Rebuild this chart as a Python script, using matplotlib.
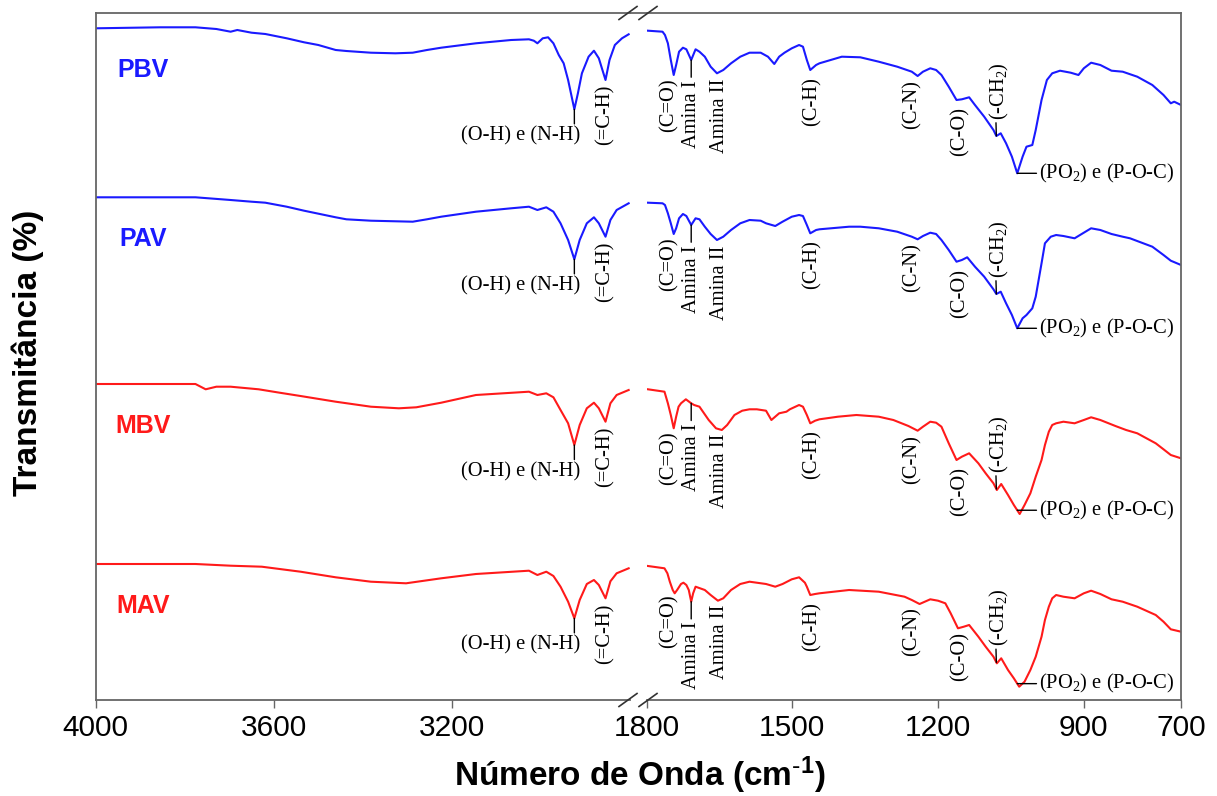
import numpy as np
import matplotlib.pyplot as plt
from matplotlib.lines import Line2D

plt.rcParams['font.family'] = ['Liberation Sans', 'DejaVu Sans']
plt.rcParams['mathtext.default'] = 'regular'

# espectros FTIR: numero de onda (cm-1) e transmitancia (unid. arb.)
# regiao 4000-2800
pbv_wn_hi = [4000, 3855, 3776, 3729, 3697, 3682, 3650, 3619, 3571, 3532, 3500, 3461, 3437,
             3382, 3327, 3288, 3256, 3224, 3146, 3067, 3027, 3016, 3008, 2996, 2984, 2972,
             2960, 2949, 2939, 2931, 2925, 2917, 2908, 2893, 2881, 2870, 2855, 2846, 2834,
             2818, 2803]
pbv_t_hi = [146.7, 147.7, 147.7, 146, 143.3, 145, 142.3, 141, 136.7, 132.7, 130, 125, 124,
            122.3, 121.7, 122.3, 125, 127.3, 131.7, 135, 135.7, 134.3, 131.7, 136.7, 137.7, 131.7,
            120, 111.7, 95, 78.3, 65.7, 81.7, 101.7, 118.3, 124.3, 116.7, 95, 115, 130,
            136.7, 140.7]

pav_wn_hi = [4000, 3776, 3697, 3650, 3619, 3571, 3532, 3461, 3437, 3382, 3288, 3256, 3224,
             3146, 3067, 3027, 3008, 2988, 2972, 2956, 2939, 2925, 2913, 2897, 2881, 2870,
             2855, 2844, 2830, 2803]
pav_t_hi = [132.7, 132.7, 130, 128.3, 127.3, 123.3, 119.3, 112.7, 110.7, 109.3, 108.3, 110.7, 113.3,
            118.3, 121.7, 123.3, 120, 122.7, 118.3, 106.7, 90, 70.7, 90, 106.7, 112.7, 106.7,
            93.3, 110, 120, 126.7]

mbv_wn_hi = [4000, 3776, 3753, 3729, 3697, 3634, 3587, 3540, 3461, 3382, 3319, 3280, 3224,
             3146, 3027, 3008, 2988, 2972, 2956, 2939, 2925, 2913, 2897, 2881, 2870, 2855,
             2844, 2830, 2803]
mbv_t_hi = [132, 132, 126.7, 129.3, 129.3, 126.7, 123.3, 120, 114.3, 109.3, 107.7, 108.7, 113.3,
            121, 124.3, 121, 122.7, 118.7, 106, 92.7, 71, 91, 107.7, 113.3, 107.7, 94.3,
            112.7, 121, 126]

mav_wn_hi = [4000, 3776, 3697, 3627, 3540, 3461, 3382, 3303, 3224, 3146, 3027, 3008, 2988,
             2972, 2956, 2939, 2925, 2913, 2897, 2881, 2870, 2855, 2844, 2830, 2803]
mav_t_hi = [125, 125, 123.3, 122.3, 117.3, 111.7, 107.3, 105.7, 110.7, 115, 118.3, 114, 117.3,
            113, 102.3, 87.3, 70.7, 89, 105, 109, 104, 90.7, 107.7, 115.7, 120.7]

# regiao 1800-700
pbv_wn_lo = [1797, 1767, 1762, 1756, 1750, 1744, 1739, 1733, 1725, 1718, 1708, 1699, 1691,
             1680, 1668, 1655, 1642, 1626, 1607, 1588, 1565, 1550, 1537, 1527, 1516, 1501,
             1486, 1478, 1470, 1463, 1451, 1444, 1398, 1360, 1322, 1284, 1254, 1242, 1231,
             1216, 1204, 1193, 1178, 1162, 1151, 1136, 1124, 1105, 1086, 1080, 1071, 1060,
             1048, 1037, 1026, 1018, 1006, 999, 987, 976, 965, 949, 927, 911, 900,
             885, 866, 843, 820, 790, 759, 736, 721, 714, 700]
pbv_t_lo = [144.3, 143.3, 140, 131.7, 115, 100, 110, 123.3, 127.3, 125.7, 115, 125.7, 123.3,
            118.3, 108.3, 101.7, 105, 111.7, 118.3, 122.3, 122.3, 118.3, 111, 118.3, 122.3, 126.7,
            130, 128.3, 115, 105, 110, 111.7, 118.3, 117.7, 113.3, 108.3, 103.3, 99, 103.3,
            106.7, 105, 100, 88.3, 75, 75.7, 77.7, 70, 58.3, 45, 39, 41.7, 31.7,
            18.3, 1.7, 18.3, 28.3, 30, 45, 75, 95, 101.7, 104.3, 102.3, 100, 106.7,
            112.3, 110, 104.3, 103.3, 98.3, 90, 80, 71.7, 73.3, 70]

pav_wn_lo = [1797, 1767, 1762, 1756, 1750, 1744, 1739, 1733, 1725, 1718, 1708, 1699, 1691,
             1680, 1668, 1655, 1642, 1626, 1607, 1588, 1565, 1554, 1535, 1520, 1501, 1486,
             1478, 1470, 1463, 1451, 1444, 1383, 1360, 1322, 1284, 1254, 1242, 1231, 1216,
             1204, 1193, 1178, 1162, 1151, 1140, 1124, 1105, 1086, 1080, 1071, 1060, 1048,
             1037, 1026, 1018, 1006, 999, 987, 980, 968, 957, 942, 919, 900, 885,
             866, 843, 820, 805, 759, 736, 721, 700]
pav_t_lo = [127.3, 126.7, 125, 116.7, 106.7, 96, 101.7, 111.7, 116, 114, 105, 111.7, 110.7,
            103.3, 96, 90, 93.3, 100, 106.7, 110, 109.3, 106.7, 104, 108.3, 113.3, 115,
            114, 105, 96.7, 100, 100.7, 103.3, 103.3, 101.7, 98.3, 93.3, 90.7, 94, 97.3,
            96, 90, 80, 68.3, 70, 72.7, 63.3, 53.3, 40.7, 36, 38.3, 26.7, 15,
            1.7, 11.7, 15, 21.7, 33.3, 66.7, 86.7, 93.3, 95, 94, 91.7, 97.3, 101.7,
            100, 96, 93.3, 91.7, 83.3, 75, 69.3, 65]

mbv_wn_lo = [1797, 1763, 1756, 1750, 1744, 1739, 1734, 1729, 1719, 1708, 1702, 1691, 1672,
             1657, 1645, 1634, 1619, 1603, 1588, 1573, 1554, 1543, 1527, 1512, 1505, 1486,
             1478, 1470, 1463, 1453, 1444, 1406, 1368, 1322, 1292, 1261, 1242, 1231, 1216,
             1204, 1193, 1178, 1162, 1151, 1136, 1117, 1102, 1086, 1079, 1070, 1056, 1044,
             1032, 1022, 1010, 999, 987, 980, 972, 965, 957, 942, 919, 900, 885,
             866, 835, 813, 790, 752, 736, 721, 700]
mbv_t_lo = [126.7, 124.3, 112.7, 101, 87.7, 99.3, 109.3, 112.7, 116.7, 112.7, 111, 109.3, 96,
            87.7, 86, 91, 101, 105.3, 106.7, 106.7, 105.3, 96, 102.7, 104.3, 106.7, 111,
            109.3, 101, 92.7, 95.3, 96.7, 99.3, 101, 99.3, 96, 90, 85.3, 89.3, 94.3,
            93.3, 89.3, 72.7, 56, 59.3, 62.7, 52.7, 42.7, 32.7, 26, 32, 21, 11,
            2, 11, 22.7, 39.3, 56, 71, 84.3, 91, 92.7, 94.3, 92.7, 96, 98.7,
            96, 90, 86, 82.7, 72.7, 66.7, 61, 57.7]

mav_wn_lo = [1797, 1763, 1757, 1752, 1746, 1742, 1737, 1729, 1724, 1718, 1713, 1708, 1704,
             1699, 1680, 1668, 1653, 1642, 1626, 1607, 1588, 1554, 1535, 1520, 1501, 1486,
             1474, 1470, 1463, 1453, 1444, 1383, 1322, 1269, 1254, 1238, 1216, 1200, 1185,
             1174, 1159, 1147, 1136, 1117, 1102, 1086, 1079, 1070, 1056, 1044, 1033, 1022,
             1010, 999, 987, 980, 972, 965, 957, 942, 919, 900, 885, 866, 843,
             820, 790, 752, 736, 721, 700]
mav_t_lo = [123, 120.7, 115.7, 107.3, 99, 95.7, 99, 105, 106.3, 104, 99, 87.3, 95.7,
            102.3, 99, 94, 88.3, 90.7, 99, 105, 107.3, 105, 102.3, 105, 109.7, 111.7,
            106.3, 102.3, 94, 95, 95.7, 99, 97.3, 92.3, 89, 85, 89.7, 88.3, 85.7,
            75.7, 60.7, 62.3, 64, 52.3, 42.3, 32.3, 25.7, 30.7, 19, 10.7, 2.3, 7.3,
            19, 32.3, 52.3, 69, 82.3, 90.7, 94, 92.3, 90.7, 95.7, 98.3, 95, 89.7,
            87.3, 82.3, 74, 67.3, 59.7, 57.3]

amostras = ['PBV', 'PAV', 'MBV', 'MAV']
cores = ['#1a1aff', '#1a1aff', '#ff1a1a', '#ff1a1a']
deslocamento = [525, 370, 184, 11]   # empilhamento vertical

bandas = ['(O-H) e (N-H)', '(=C-H)', '(C=O)', 'Amina I', 'Amina II', '(C-H)',
          '(C-N)', '(C-O)', '(-CH$_2$)', '(PO$_2$) e (P-O-C)']
bandas_wn = [2925, 2855, 1744, 1708, 1655, 1463, 1242, 1162, 1080, 1037]

# posicao de cada rotulo em relacao a banda: dx, dy (pixels), rotacao, ha, va, ponto da linha
pos_rotulo = [
    (6, -27, 0, 'right', 'center', (0.95, 1.0)),
    (-1, -5, 90, 'center', 'top', None),
    (-5, -3, 90, 'center', 'top', None),
    (0, -20, 90, 'center', 'top', (0.5, 1.0)),
    (3, -5, 90, 'center', 'top', None),
    (2, -7, 90, 'center', 'top', None),
    (-6, -4, 90, 'center', 'top', None),
    (3, -7, 90, 'center', 'top', None),
    (3, 16, 90, 'center', 'bottom', (0.35, 0.0)),
    (22, 0, 0, 'left', 'center', (0.0, 0.5)),
]

W, H = 1217, 796
fig = plt.figure(figsize=(W / 100, H / 100), dpi=100)
axL = fig.add_axes([95.7 / W, 96 / H, (630 - 95.7) / W, 687 / H])
axR = fig.add_axes([646.5 / W, 96 / H, (1181 - 646.5) / W, 687 / H])

cor_eixo = '#666666'
for ax in (axL, axR):
    ax.set_ylim(0, 687)
    ax.set_yticks([])
    for s in ax.spines.values():
        s.set_color(cor_eixo)
        s.set_linewidth(1.3)
    ax.tick_params(axis='x', direction='out', length=6, width=1, color=cor_eixo,
                   labelsize=21.5, pad=4)
axL.spines['right'].set_visible(False)
axR.spines['left'].set_visible(False)
axL.set_xlim(4000, 2800)
axR.set_xlim(1800, 700)
axL.set_xticks([4000, 3600, 3200])
axR.set_xticks([1800, 1500, 1200, 900, 700])

hi = [(pbv_wn_hi, pbv_t_hi), (pav_wn_hi, pav_t_hi), (mbv_wn_hi, mbv_t_hi), (mav_wn_hi, mav_t_hi)]
lo = [(pbv_wn_lo, pbv_t_lo), (pav_wn_lo, pav_t_lo), (mbv_wn_lo, mbv_t_lo), (mav_wn_lo, mav_t_lo)]

for i, nome in enumerate(amostras):
    off = deslocamento[i]
    wh, th = np.array(hi[i][0]), np.array(hi[i][1]) + off
    wl, tl = np.array(lo[i][0]), np.array(lo[i][1]) + off
    axL.plot(wh, th, color=cores[i], lw=1.5, solid_joinstyle='round')
    axR.plot(wl, tl, color=cores[i], lw=1.5, solid_joinstyle='round')

    axL.annotate(nome, xy=(wh[0], th[0]), xytext=(47, -42), textcoords='offset pixels',
                 ha='center', va='center', fontsize=18, fontweight='bold', color=cores[i])

    for txt, wn, (dx, dy, rot, ha, va, rel) in zip(bandas, bandas_wn, pos_rotulo):
        if wn > 2000:
            ax, ww, tt = axL, wh, th
        else:
            ax, ww, tt = axR, wl, tl
        y = np.interp(wn, ww[::-1], tt[::-1])
        kw = {}
        if rel is not None:
            kw['arrowprops'] = dict(arrowstyle='-', color='black', lw=1, relpos=rel,
                                    shrinkA=0, shrinkB=0)
        ax.annotate(txt, xy=(wn, y), xytext=(dx, dy), textcoords='offset pixels',
                    rotation=rot, ha=ha, va=va, fontsize=14.8,
                    family=['Liberation Serif', 'DejaVu Serif'], color='black', **kw)

# topo continuo e marcas de quebra
def fx(px):
    return px / W

def fy(py):
    return 1 - py / H

fig.add_artist(Line2D([fx(630), fx(646.5)], [fy(13), fy(13)], color=cor_eixo, lw=1.3))
for cy in (13, 700):
    for cx in (628, 648):
        fig.add_artist(Line2D([fx(cx - 9), fx(cx + 9)], [fy(cy + 6.5), fy(cy - 6.5)],
                              color='#333333', lw=1.2))

fig.text(fx(640), fy(775), r'Número de Onda (cm$^{\text{-}1}$)', ha='center', va='center',
         fontsize=24, fontweight='bold')
fig.text(fx(28), fy(353), 'Transmitância (%)', ha='center', va='center', rotation=90,
         fontsize=24, fontweight='bold')

fig.savefig('out.png', dpi=100, facecolor='white')
